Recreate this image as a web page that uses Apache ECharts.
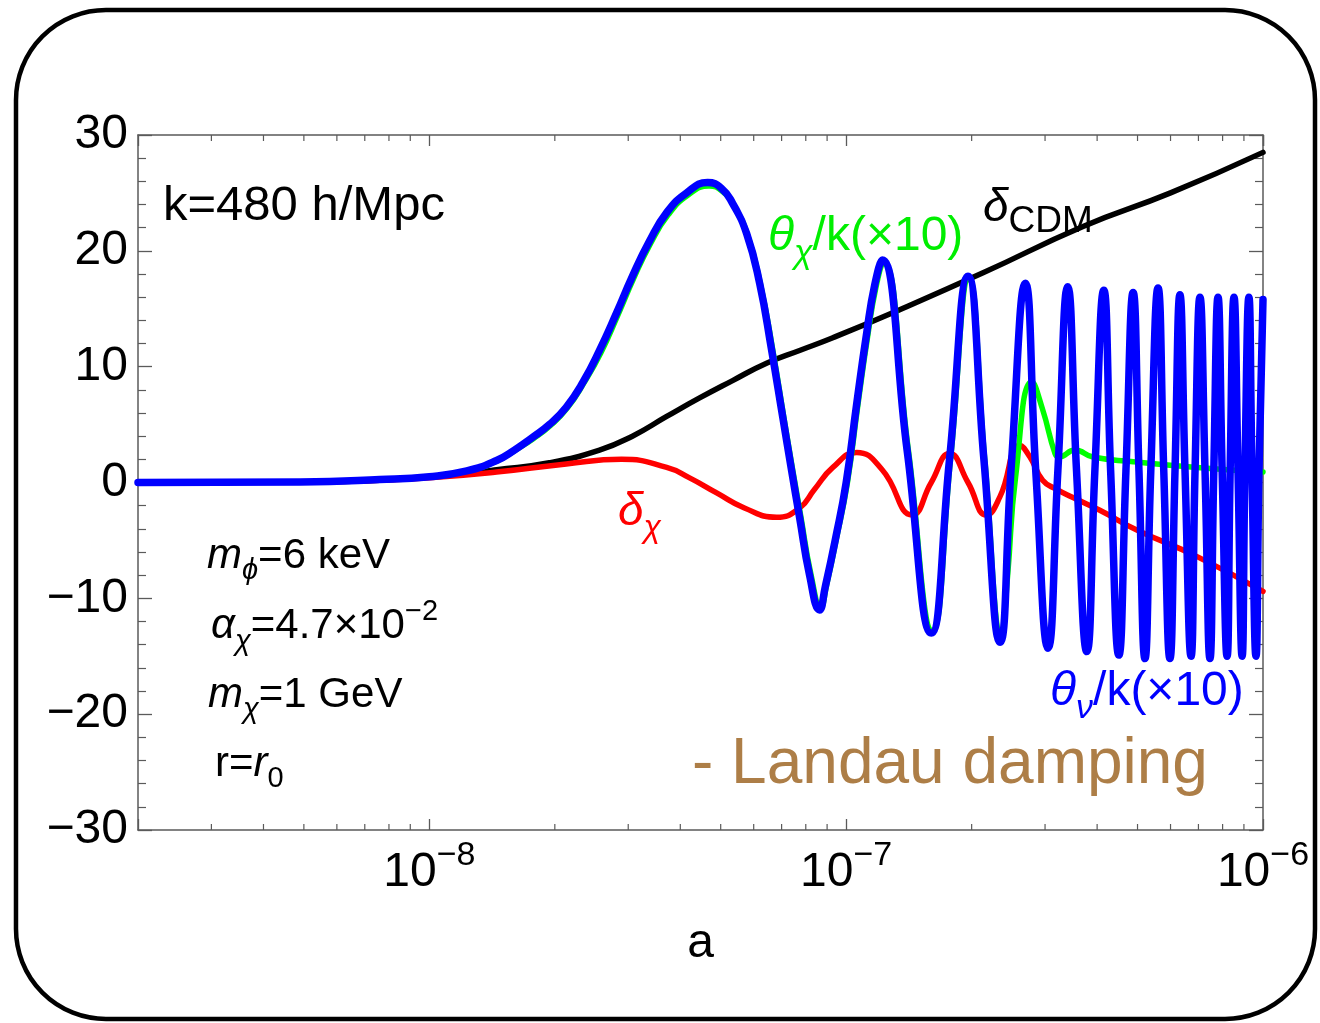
<!DOCTYPE html>
<html>
<head>
<meta charset="utf-8">
<script src="https://cdn.jsdelivr.net/npm/echarts@6/dist/echarts.min.js"></script>
<style>
html, body { margin: 0; padding: 0; background: #fff; }
#chart { width: 1320px; height: 1023px; }
</style>
</head>
<body>
<div id="chart"></div>
<script>
const FONT = '"Liberation Sans", Arial, Helvetica, "DejaVu Sans", sans-serif';

// scale factor a and the four curves
const aCdm = [2e-9, 4.9e-9, 7.6e-9, 1.0e-8, 1.23e-8, 1.45e-8, 1.94e-8, 2.56e-8, 3.07e-8, 3.71e-8, 4.45e-8, 5.34e-8, 6.44e-8, 7.73e-8, 9.29e-8, 1.34e-7, 2.13e-7, 3.70e-7, 6.0e-7, 1.0e-6];
const deltaCdm = [0, 0.05, 0.2, 0.5, 0.8, 1.1, 1.7, 2.8, 4.0, 5.7, 7.3, 8.8, 10.3, 11.4, 12.5, 14.9, 18.1, 22.1, 25.0, 28.5];

const aChi = [2e-9, 4.9e-9, 7.6e-9, 1.0e-8, 1.45e-8, 2.13e-8, 2.89e-8, 3.71e-8, 4.21e-8, 4.89e-8, 5.70e-8, 6.81e-8, 7.73e-8, 8.39e-8, 9.29e-8, 1.06e-7, 1.22e-7, 1.44e-7, 1.60e-7, 1.77e-7, 1.96e-7, 2.17e-7, 2.34e-7, 2.61e-7, 2.76e-7, 2.96e-7, 3.20e-7, 3.50e-7, 4.06e-7, 4.98e-7, 6.95e-7, 1.0e-6];
const deltaChi = [0, 0.05, 0.2, 0.4, 0.9, 1.6, 2.0, 1.3, 0.4, -0.9, -2.2, -3.0, -2.2, -0.6, 1.3, 2.6, 1.1, -2.8, 0, 2.5, 0, -2.8, -1.2, 3.2, 2.2, 0.2, -0.6, -1.3, -2.4, -4.1, -6.4, -9.4];

const aThChi = [2e-9, 4.9e-9, 7.6e-9, 1.0e-8, 1.24e-8, 1.46e-8, 1.61e-8, 1.78e-8, 1.95e-8, 2.14e-8, 2.35e-8, 2.58e-8, 2.83e-8, 3.09e-8, 3.39e-8, 3.74e-8, 4.17e-8, 4.69e-8, 5.06e-8, 5.38e-8,
  5.81e-8, 6.24e-8, 6.67e-8, 7.09e-8, 7.45e-8, 7.79e-8, 8.23e-8, 8.69e-8, 8.97e-8, 9.47e-8, 1.007e-7, 1.067e-7, 1.127e-7, 1.178e-7, 1.228e-7,
  1.41e-7, 1.61e-7, 1.78e-7, 1.97e-7, 2.15e-7, 2.36e-7, 2.44e-7, 2.55e-7, 2.79e-7, 2.96e-7, 3.17e-7, 3.24e-7, 3.54e-7, 3.91e-7, 4.88e-7, 6.95e-7, 1.0e-6];
const thetaChi = [0, 0.05, 0.25, 0.5, 1.0, 1.9, 2.8, 3.8, 4.9, 6.4, 8.6, 11.2, 14.4, 17.6, 20.6, 23.1, 24.8, 25.6, 25.1, 23.9,
  21.3, 17.0, 11.4, 5.6, 1.0, -3.0, -7.9, -10.8, -8.9, -4.9, 0, 6.7, 12.7, 16.8, 19.0,
  2.8, -12.8, 2, 17.6, 2, -13.2, -8, 0.5, 8.7, 6.3, 2.5, 2.2, 2.8, 2.2, 1.8, 1.3, 0.9];

const aThNu = [2e-9, 4.9e-9, 7.6e-9, 1.0e-8, 1.23e-8, 1.45e-8, 1.60e-8, 1.77e-8, 1.94e-8, 2.13e-8, 2.34e-8, 2.56e-8, 2.81e-8, 3.07e-8, 3.37e-8, 3.71e-8, 4.14e-8, 4.65e-8, 5.02e-8, 5.34e-8,
  5.77e-8, 6.20e-8, 6.62e-8, 7.04e-8, 7.40e-8, 7.73e-8, 8.17e-8, 8.63e-8, 8.91e-8, 9.41e-8, 1.0e-7, 1.06e-7, 1.12e-7, 1.17e-7, 1.22e-7,
  1.40e-7, 1.60e-7, 1.77e-7, 1.96e-7, 2.14e-7, 2.34e-7, 2.49e-7, 2.69e-7, 2.85e-7, 3.05e-7, 3.22e-7, 3.40e-7, 3.57e-7, 3.78e-7, 3.95e-7, 4.15e-7, 4.31e-7, 4.51e-7, 4.69e-7, 4.88e-7,
  5.04e-7, 5.21e-7, 5.38e-7, 5.60e-7, 5.78e-7, 5.98e-7, 6.15e-7, 6.32e-7, 6.50e-7, 6.72e-7, 6.87e-7, 7.06e-7, 7.26e-7, 7.46e-7, 7.62e-7, 7.80e-7, 7.98e-7, 8.20e-7, 8.34e-7, 8.52e-7,
  8.71e-7, 8.91e-7, 9.05e-7, 9.25e-7, 9.41e-7, 9.62e-7, 9.78e-7, 1.0e-6];
const thetaNu = [0, 0.05, 0.25, 0.5, 1.0, 1.9, 2.8, 3.9, 5.0, 6.5, 8.7, 11.4, 14.6, 17.8, 20.8, 23.3, 25.0, 25.9, 25.4, 24.1,
  21.5, 17.2, 11.5, 5.7, 1.0, -3.0, -8.0, -11.0, -9.0, -5.0, 0, 6.8, 12.9, 17.0, 19.2,
  2.8, -13.0, 2, 17.8, 2, -13.8, 1.5, 17.2, 1, -14.3, 1, 16.9, 1, -14.6, 1, 16.6, 1, -14.9, 1, 16.4,
  1, -15.2, 1, 16.8, 1, -15.2, 1, 16.2, 1, -15.0, 1, 16.0, 1, -15.2, 1, 16.0, 1, -15.0, 1, 16.0,
  1, -15.0, 1, 16.0, 1, -15.0, 1, 15.8];

const yTicks = [-30, -20, -10, 0, 10, 20, 30];

function pairs(xs, ys) { return xs.map((x, i) => [x, ys[i]]); }

const axisColor = '#5a5a5a';

function pow10Label(v) {
  const e = Math.log10(v);
  const r = Math.round(e);
  if (Math.abs(e - r) > 1e-6) return '';
  return '{b|10}{s|' + (r < 0 ? '\u2212' + (-r) : r) + '}';
}

function xAxis(pos) {
  return {
    type: 'log', logBase: 10, min: 2e-9, max: 1e-6, position: pos,
    axisLine: { show: true, onZero: false, lineStyle: { color: axisColor, width: 1.5 } },
    axisTick: { show: true, inside: true, length: 11, lineStyle: { color: axisColor, width: 1.3 } },
    axisLabel: {
      show: pos === 'bottom', margin: 9, formatter: pow10Label, color: '#000',
      rich: {
        b: { fontFamily: FONT, fontSize: 48, lineHeight: 58, verticalAlign: 'bottom', color: '#000' },
        s: { fontFamily: FONT, fontSize: 34, lineHeight: 34, verticalAlign: 'top', color: '#000' }
      }
    },
    splitLine: { show: false },
    name: pos === 'bottom' ? 'a' : '',
    nameLocation: 'middle', nameGap: 90,
    nameTextStyle: { fontFamily: FONT, fontSize: 48, color: '#000' }
  };
}

function yAxis(pos) {
  return {
    type: 'value', min: yTicks[0], max: yTicks[yTicks.length - 1], interval: 10, position: pos,
    axisLine: { show: true, onZero: false, lineStyle: { color: axisColor, width: 1.5 } },
    axisTick: { show: true, inside: true, length: 14, lineStyle: { color: axisColor, width: 1.3 } },
    minorTick: { show: true, splitNumber: 5, length: 8, lineStyle: { color: axisColor, width: 1.2 } },
    axisLabel: {
      show: pos === 'left', margin: 10, fontFamily: FONT, fontSize: 48, color: '#000',
      formatter: v => (v < 0 ? '\u2212' + Math.abs(v) : String(v))
    },
    splitLine: { show: false },
    minorSplitLine: { show: false }
  };
}

function line(name, data, color, width) {
  return {
    name, type: 'line', data, smooth: 0.5, showSymbol: false, symbol: 'none',
    lineStyle: { color, width, cap: 'round', join: 'round' },
    xAxisIndex: 0, yAxisIndex: 0
  };
}

const chart = echarts.init(document.getElementById('chart'));

chart.setOption({
  animation: false,
  backgroundColor: '#fff',
  grid: { left: 138, right: 57, top: 135, bottom: 193, outerBoundsMode: 'none' },
  xAxis: [xAxis('bottom'), xAxis('top')],
  yAxis: [yAxis('left'), yAxis('right')],
  series: [
    line('deltaCDM', pairs(aCdm, deltaCdm), '#000000', 5.5),
    line('deltaChi', pairs(aChi, deltaChi), '#ff0000', 5.5),
    line('thetaChi', pairs(aThChi, thetaChi), '#00ff00', 5.5),
    line('thetaNu', pairs(aThNu, thetaNu), '#0000ff', 7.5)
  ]
});

// rich text annotation helper
function note(id, left, top, text, color, S, s) {
  const L = Math.round(S * 1.4);
  const base = { fontFamily: FONT, fill: color };
  return {
    type: 'text', id, left, top, z: 1,
    style: {
      text, fill: color, fontFamily: FONT, fontSize: S,
      rich: {
        n: Object.assign({ fontSize: S, lineHeight: L }, base),
        i: Object.assign({ fontSize: S, lineHeight: L, fontStyle: 'italic' }, base),
        sub: Object.assign({ fontSize: s, lineHeight: s, verticalAlign: 'bottom' }, base),
        isub: Object.assign({ fontSize: s, lineHeight: s, verticalAlign: 'bottom', fontStyle: 'italic' }, base),
        sup: Object.assign({ fontSize: s, lineHeight: s, verticalAlign: 'top' }, base)
      }
    }
  };
}

const graphics = [
  { type: 'rect', id: 'frame', z: 0, silent: true,
    shape: { x: 16, y: 10, width: 1299, height: 1009, r: 90 },
    style: { fill: 'none', stroke: '#000', lineWidth: 4.5 } },
  note('k', 163, 182, '{n|k=480 h/Mpc}', '#000', 49, 34),
  note('dcdm', 983, 185, '{i|δ}{sub|CDM}', '#000', 46, 37),
  note('thchi', 768, 213, '{i|θ}{isub|χ}{n|/k(×10)}', '#00ee00', 48, 34),
  note('dchi', 618, 489, '{i|δ}{isub|χ}', '#ff0000', 46, 32),
  note('mphi', 207, 535, '{i|m}{isub|ϕ}{n|=6 keV}', '#000', 42, 29),
  note('alpha', 211, 597, '{i|α}{isub|χ}{n|=4.7×10}{sup|\u22122}', '#000', 42, 29),
  note('mchi', 208, 674, '{i|m}{isub|χ}{n|=1 GeV}', '#000', 42, 29),
  note('r', 215, 743, '{n|r=}{i|r}{sub|0}', '#000', 42, 29),
  note('thnu', 1050, 668, '{i|θ}{isub|ν}{n|/k(×10)}', '#0000ff', 48, 34),
  note('landau', 692, 733, '{n|- Landau damping}', '#ad7e47', 64, 40)
];

// minor log ticks (2..9 per decade) on bottom and top frame edges
const yB = chart.convertToPixel({ yAxisIndex: 0 }, -30);
const yT = chart.convertToPixel({ yAxisIndex: 0 }, 30);
for (let e = -9; e <= -7; e++) {
  for (let k = 2; k <= 9; k++) {
    const v = k * Math.pow(10, e);
    if (v <= 2.0001e-9 || v >= 1e-6) continue;
    const x = chart.convertToPixel({ xAxisIndex: 0 }, v);
    graphics.push({ type: 'line', silent: true, z: 5, shape: { x1: x, y1: yB, x2: x, y2: yB - 6 }, style: { stroke: axisColor, lineWidth: 1.2 } });
    graphics.push({ type: 'line', silent: true, z: 5, shape: { x1: x, y1: yT, x2: x, y2: yT + 6 }, style: { stroke: axisColor, lineWidth: 1.2 } });
  }
}

chart.setOption({ graphic: graphics });
</script>
</body>
</html>
